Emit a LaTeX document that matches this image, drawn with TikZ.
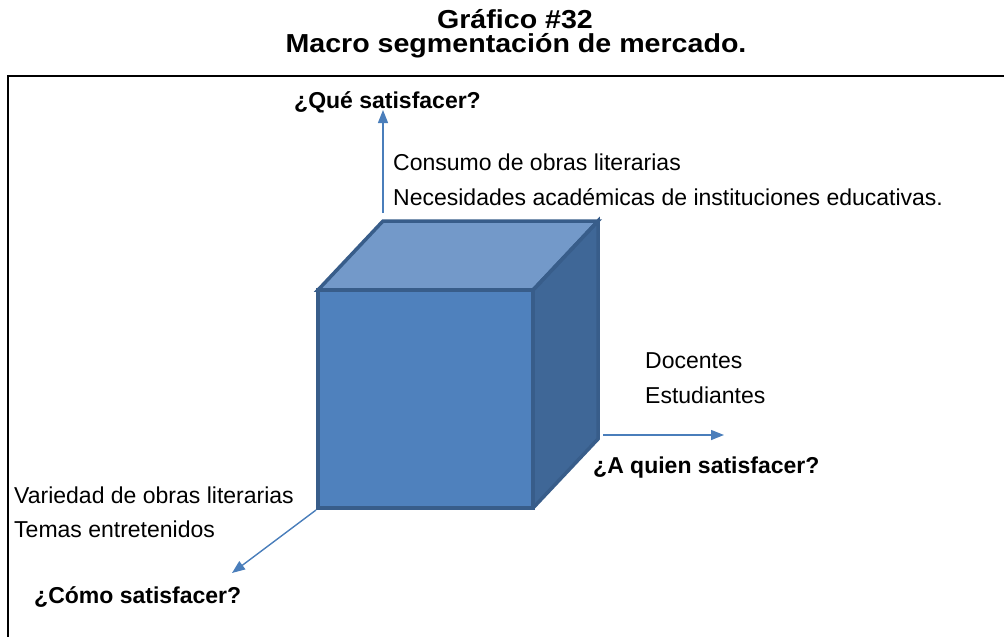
\documentclass[tikz,border=0pt]{standalone}
\usepackage{fontspec}
\setmainfont{Liberation Sans}
\usetikzlibrary{arrows.meta}
\definecolor{frontc}{HTML}{4F81BD}
\definecolor{topc}{HTML}{7399C9}
\definecolor{sidec}{HTML}{3F6797}
\definecolor{edgec}{HTML}{385D8A}
\definecolor{arrc}{HTML}{4A7EBB}
\tikzset{
  face/.style={draw=edgec, line width=3.5pt, line join=miter},
  axis/.style={draw=arrc, line width=1.4pt, -{Triangle[length=13pt,width=10pt]}},
  body/.style={anchor=base west, inner sep=0pt, font=\fontsize{23}{27}\selectfont},
  qlabel/.style={anchor=base west, inner sep=0pt, font=\fontsize{23}{27}\selectfont\bfseries},
  ttl/.style={anchor=base, inner sep=0pt, font=\fontsize{26}{26}\selectfont\bfseries},
}
\begin{document}
\begin{tikzpicture}[x=1pt, y=-1pt]
\useasboundingbox (0,0) rectangle (1004,637);
% frame
\draw[line width=2.5pt] (8,637) -- (8,76) -- (1004,76);
% title
\node[ttl] (t1) at (515,28) {\scalebox{1.1}[1]{Gráfico \#32}};
\node[ttl] (t2) at (516,52) {\scalebox{1.1}[1]{Macro segmentación de mercado.}};
% cube
\coordinate (fbl) at (318,508);
\coordinate (ftl) at (318,290);
\coordinate (ftr) at (533,290);
\coordinate (fbr) at (533,508);
\coordinate (btl) at (383,221);
\coordinate (btr) at (598,221);
\coordinate (bbr) at (598,439);
\fill[topc] (ftl) -- (btl) -- (btr) -- (ftr) -- cycle;
\fill[sidec] (ftr) -- (btr) -- (bbr) -- (fbr) -- cycle;
\fill[frontc] (ftl) rectangle (fbr);
\draw[face] (ftl) -- (btl) -- (btr) -- (ftr) -- cycle;
\draw[face] (ftr) -- (btr) -- (bbr) -- (fbr);
\draw[face] (ftl) rectangle (fbr);
% axes
\coordinate (upS) at (383,213);
\coordinate (upE) at (383,110);
\coordinate (rtS) at (603,435);
\coordinate (rtE) at (724,435);
\coordinate (dgS) at (316,510);
\coordinate (dgE) at (232,573);
\draw[axis] (upS) -- (upE);
\draw[axis] (rtS) -- (rtE);
\draw[axis] (dgS) -- (dgE);
% labels
\node[qlabel] (q1) at (294,108) {¿Qué satisfacer?};
\node[body] (c1) at (393,170) {Consumo de obras literarias};
\node[body] (c2) at (393,205) {Necesidades académicas de instituciones educativas.};
\node[body] (d1) at (645,368) {Docentes};
\node[body] (d2) at (645,403) {Estudiantes};
\node[qlabel] (q2) at (593,473) {¿A quien satisfacer?};
\node[body] (v1) at (14,503) {Variedad de obras literarias};
\node[body] (v2) at (14,537) {Temas entretenidos};
\node[qlabel] (q3) at (34,603) {¿Cómo satisfacer?};
\end{tikzpicture}
\end{document}
